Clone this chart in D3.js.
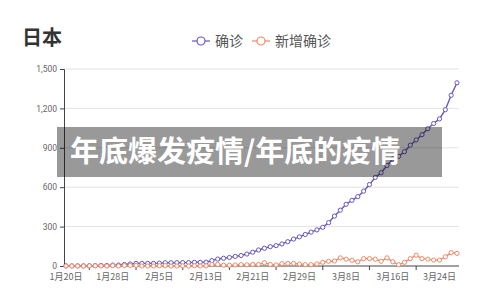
<!DOCTYPE html>
<html>
<head>
<meta charset="utf-8">
<script src="https://cdn.jsdelivr.net/npm/d3@7"></script>
<style>
  html, body { margin: 0; padding: 0; background: #fff; }
  svg { display: block; font-family: "Noto Sans CJK SC", "Noto Sans", sans-serif; }
</style>
</head>
<body>
<svg id="chart" width="500" height="305"></svg>
<script>
// Japan, 2020-01-20 .. 2020-03-27 (one entry per day)
const dates = d3.timeDays(new Date(2020, 0, 20), new Date(2020, 2, 28));

// cumulative confirmed cases
const confirmed = [
  1, 1, 1, 1, 2, 3, 4, 4, 7, 7,
  11, 15, 20, 20, 20, 20, 22, 25, 25, 25,
  26, 26, 28, 28, 29, 41, 53, 59, 65, 73,
  80, 91, 105, 122, 135, 147, 155, 168, 185, 205,
  222, 240, 258, 275, 295, 330, 380, 425, 470, 500,
  528, 570, 620, 675, 710, 765, 815, 835, 870, 920,
  960, 1000, 1045, 1085, 1120, 1190, 1300, 1395
];

// new confirmed cases per day
const newConfirmed = [
  0, 0, 0, 0, 1, 1, 1, 0, 3, 0,
  4, 4, 5, 0, 0, 0, 2, 3, 0, 0,
  1, 0, 2, 0, 1, 12, 12, 6, 6, 8,
  11, 9, 12, 12, 25, 12, 8, 18, 20, 20,
  15, 10, 10, 16, 28, 36, 38, 62, 52, 44,
  32, 56, 56, 52, 36, 62, 32, 10, 28, 56,
  82, 56, 52, 45, 45, 70, 102, 96
];

const yTicks = [0, 300, 600, 900, 1200, 1500];
const seriesNames = ["确诊", "新增确诊"];
const seriesColors = ["#6658c0", "#ee8a68"];
const title = "日本";
const bannerText = "年底爆发疫情/年底的疫情";

const svg = d3.select("#chart");
const fmtDay = d3.timeFormat("%-m月%-d日");

const x = d3.scalePoint().domain(d3.range(dates.length)).range([66, 457]);
const y = d3.scaleLinear().domain([0, 1500]).range([266, 69]);

// horizontal grid
svg.append("g")
  .selectAll("line")
  .data(yTicks.filter(v => v > 0))
  .join("line")
  .attr("x1", 64).attr("x2", 459)
  .attr("y1", d => y(d)).attr("y2", d => y(d))
  .attr("stroke", "#e3e3e3").attr("stroke-width", 1);

// y axis
const yAxis = svg.append("g")
  .attr("transform", "translate(64,0)")
  .call(d3.axisLeft(y).tickValues(yTicks).tickSize(4).tickPadding(3).tickFormat(d3.format(",")));
yAxis.select(".domain").attr("stroke", "#444");
yAxis.selectAll(".tick line").attr("stroke", "#444");
yAxis.selectAll("text").attr("fill", "#666").style("font-size", "8.5px").style("font-family", "Roboto, 'Noto Sans', sans-serif");

// x axis: labels every 8 days, ticks halfway between labels
const labelIdx = d3.range(0, dates.length, 8);
const tickIdx = d3.range(4, dates.length, 8);
const xg = svg.append("g");
xg.append("line")
  .attr("x1", 64).attr("x2", 459).attr("y1", 266).attr("y2", 266)
  .attr("stroke", "#444");
xg.selectAll("line.tk")
  .data(tickIdx)
  .join("line").attr("class", "tk")
  .attr("x1", d => x(d)).attr("x2", d => x(d))
  .attr("y1", 266).attr("y2", 270)
  .attr("stroke", "#444");
xg.selectAll("text")
  .data(labelIdx)
  .join("text")
  .attr("x", d => x(d)).attr("y", 280)
  .attr("text-anchor", "middle")
  .attr("fill", "#666")
  .style("font-size", "9px")
  .text(d => fmtDay(dates[d]));

// series
const series = [confirmed, newConfirmed];
const line = d3.line().x((d, i) => x(i)).y(d => y(d));
series.forEach((vals, s) => {
  const g = svg.append("g");
  g.append("path")
    .datum(vals)
    .attr("d", line)
    .attr("fill", "none")
    .attr("stroke", seriesColors[s])
    .attr("stroke-width", 1.4);
  g.selectAll("circle")
    .data(vals)
    .join("circle")
    .attr("cx", (d, i) => x(i)).attr("cy", d => y(d))
    .attr("r", 2.1)
    .attr("fill", "#fff")
    .attr("stroke", seriesColors[s])
    .attr("stroke-width", 1);
});

// title
svg.append("text")
  .attr("x", 22).attr("y", 45)
  .attr("fill", "#333")
  .style("font-size", "20px")
  .style("font-weight", "bold")
  .text(title);

// legend
const legendPos = [192, 252];
const legendTextX = [215, 275];
seriesNames.forEach((name, s) => {
  const lg = svg.append("g");
  lg.append("line")
    .attr("x1", legendPos[s]).attr("x2", legendPos[s] + 18)
    .attr("y1", 41).attr("y2", 41)
    .attr("stroke", seriesColors[s]).attr("stroke-width", 1.2);
  lg.append("circle")
    .attr("cx", legendPos[s] + 9).attr("cy", 41).attr("r", 4)
    .attr("fill", "#fff").attr("stroke", seriesColors[s]).attr("stroke-width", 1.2);
  lg.append("text")
    .attr("x", legendTextX[s]).attr("y", 46)
    .attr("fill", "#555")
    .style("font-size", "14px")
    .text(name);
});

// caption banner over the plot
svg.append("rect")
  .attr("x", 57).attr("y", 127).attr("width", 385).attr("height", 50)
  .attr("fill", "rgba(0,0,0,0.4)");
svg.append("text")
  .attr("x", 70).attr("y", 162)
  .attr("fill", "#fff")
  .style("font-size", "29px")
  .style("font-weight", "bold")
  .text(bannerText);
</script>
</body>
</html>
